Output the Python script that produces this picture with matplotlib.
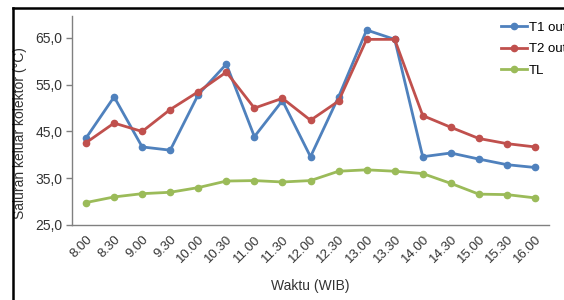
import matplotlib
matplotlib.use("Agg")
import matplotlib.pyplot as plt
from matplotlib.lines import Line2D
from matplotlib.ticker import FuncFormatter

plt.rcParams['font.family'] = ['Liberation Sans', 'DejaVu Sans']

# data
waktu = ['8.00', '8.30', '9.00', '9.30', '10.00', '10.30', '11.00', '11.30', '12.00',
         '12.30', '13.00', '13.30', '14.00', '14.30', '15.00', '15.30', '16.00']
t1_out = [43.6, 52.4, 41.7, 41.0, 52.9, 59.4, 43.9, 51.6, 39.6,
          52.4, 66.7, 64.7, 39.6, 40.4, 39.1, 37.9, 37.3]
t2_out = [42.6, 46.8, 45.0, 49.7, 53.5, 57.7, 50.0, 52.1, 47.4,
          51.5, 64.7, 64.7, 48.4, 45.9, 43.5, 42.4, 41.7]
tl = [29.8, 31.0, 31.7, 32.0, 33.0, 34.4, 34.5, 34.2, 34.5,
      36.5, 36.8, 36.5, 36.0, 33.9, 31.6, 31.5, 30.8]
y_ticks = [25, 35, 45, 55, 65]

fig = plt.figure(figsize=(5.64, 3.0), dpi=100)
ax = fig.add_axes([0.1277, 0.25, 0.8457, 0.6967])

x = list(range(len(waktu)))
ax.plot(x, t1_out, color='#4F81BD', lw=2.0, marker='o', ms=4.5, label='T1 out')
ax.plot(x, t2_out, color='#C0504D', lw=2.0, marker='o', ms=4.5, label='T2 out')
ax.plot(x, tl, color='#9BBB59', lw=2.0, marker='o', ms=4.5, label='TL')

ax.set_xlim(-0.5, len(waktu) - 0.5)
ax.set_ylim(25, 69.7)
ax.set_yticks(y_ticks)
ax.yaxis.set_major_formatter(FuncFormatter(lambda v, p: f'{v:.1f}'.replace('.', ',')))
ax.set_xticks(x)
ax.set_xticklabels(waktu, rotation=45, ha='right', rotation_mode='anchor')

for s in ['top', 'right']:
    ax.spines[s].set_visible(False)
for s in ['left', 'bottom']:
    ax.spines[s].set_color('#808080')
    ax.spines[s].set_linewidth(1.0)
ax.tick_params(axis='y', colors='#808080', labelcolor='#333333', labelsize=10,
               length=4, width=1, pad=3)
ax.tick_params(axis='x', length=0, labelsize=9.5, labelcolor='#333333', pad=6)

ax.set_xlabel('Waktu (WIB)', fontsize=10, color='#333333', labelpad=10)
ax.set_ylabel('Saluran keluar kolektor (°C)', fontsize=10, color='#333333')
ax.yaxis.set_label_coords(-0.094, 0.44)

fig.legend(loc='upper left', bbox_to_anchor=(0.888, 0.928), frameon=False,
           fontsize=9.5, handlelength=1.95, handletextpad=0.2, labelspacing=0.7,
           borderaxespad=0, borderpad=0)

# outer frame, only left and top edges visible
fig.add_artist(Line2D([0.023, 0.023], [-0.05, 0.973], transform=fig.transFigure,
                      color='black', lw=1.8))
fig.add_artist(Line2D([0.023, 1.05], [0.973, 0.973], transform=fig.transFigure,
                      color='black', lw=1.8))

fig.savefig('out.png', dpi=100)
